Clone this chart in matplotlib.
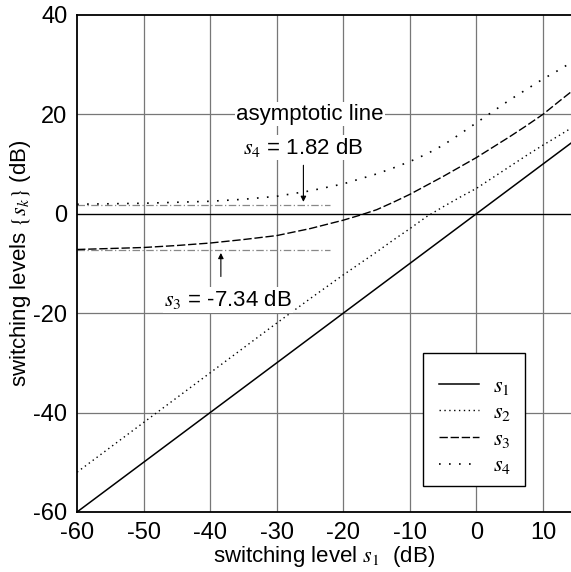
import matplotlib.pyplot as plt
from matplotlib.patches import Rectangle

plt.rcParams['font.family'] = ['Liberation Sans', 'DejaVu Sans']
plt.rcParams['mathtext.fontset'] = 'stix'
plt.rcParams['axes.unicode_minus'] = False

# values (dB)
x = [-60, -55, -50, -45, -40, -35, -30, -25, -20, -17.5, -15, -12.5, -10,
     -7.5, -5, -2.5, 0, 2.5, 5, 7.5, 10, 12.5, 14.2]
s1 = [-60, -55, -50, -45, -40, -35, -30, -25, -20, -17.5, -15, -12.5, -10,
      -7.5, -5, -2.5, 0, 2.5, 5, 7.5, 10, 12.5, 14.2]
s2 = [-52, -47, -42, -37, -32, -27, -22, -17.1, -12.3, -10, -7.7, -5.3, -3.0,
      -0.6, 1.4, 3.3, 5.1, 7.3, 9.5, 11.7, 13.8, 15.8, 17.2]
s3 = [-7.2, -7.0, -6.8, -6.4, -5.9, -5.2, -4.4, -3.0, -1.3, -0.3, 0.8, 2.3, 3.9,
      5.7, 7.5, 9.4, 11.3, 13.4, 15.5, 17.7, 20.0, 22.7, 24.5]
s4 = [1.9, 2.0, 2.1, 2.3, 2.5, 2.9, 3.5, 4.6, 6.0, 7.0, 8.0, 9.2, 10.5,
      12.0, 13.8, 16.0, 18.3, 20.6, 22.9, 25.0, 27.1, 29.0, 30.4]
asym_s3 = -7.34
asym_s4 = 1.82
labels = ['$s_{\\mathit{1}}$', '$s_{\\mathit{2}}$', '$s_{\\mathit{3}}$', '$s_{\\mathit{4}}$']

fig = plt.figure(figsize=(5.71, 5.72), dpi=100)
ax = fig.add_axes([0.135, 0.105, 0.865, 0.869])

# grid
for v in range(-50, 15, 10):
    ax.axvline(v, color='#777777', lw=0.9, zorder=1)
for v in range(-40, 40, 20):
    ax.axhline(v, color='#777777', lw=0.9, zorder=1)
ax.axhline(0, color='black', lw=0.9, zorder=1)

# asymptotic lines
ax.plot([-60, -22], [asym_s4, asym_s4], color='#888888', lw=0.9,
        ls=(0, (6, 2, 1, 2)), zorder=2)
ax.plot([-60, -22], [asym_s3, asym_s3], color='#888888', lw=0.9,
        ls=(0, (6, 2, 1, 2)), zorder=2)

l1, = ax.plot(x, s1, color='black', lw=1.1, ls='-', zorder=3)
l2, = ax.plot(x, s2, color='black', lw=1.0, ls=(0, (1, 2.5)), zorder=3)
l3, = ax.plot(x, s3, color='black', lw=1.0, ls=(0, (6, 2)), zorder=3)
l4, = ax.plot(x, s4, color='black', lw=1.2, ls=(0, (1, 5)), zorder=3)

# annotations
ax.text(-25, 20, 'asymptotic line', ha='center', va='center', fontsize=16,
        bbox=dict(facecolor='white', edgecolor='none', pad=1), zorder=4)
ax.text(-26, 13.3, '$s_{\\mathit{4}}$ = 1.82 dB', ha='center', va='center',
        fontsize=16, bbox=dict(facecolor='white', edgecolor='none', pad=1), zorder=4)
ax.annotate('', xy=(-26, asym_s4), xytext=(-26, 10.3),
            arrowprops=dict(arrowstyle='-|>', color='black', lw=0.8,
                            mutation_scale=8), zorder=4)
ax.text(-37.3, -17.3, '$s_{\\mathit{3}}$ = -7.34 dB', ha='center', va='center',
        fontsize=16, bbox=dict(facecolor='white', edgecolor='none', pad=1), zorder=4)
ax.annotate('', xy=(-38.4, asym_s3), xytext=(-38.4, -13.2),
            arrowprops=dict(arrowstyle='-|>', color='black', lw=0.8,
                            mutation_scale=8), zorder=4)

# legend box
ax.add_patch(Rectangle((0.700, 0.052), 0.207, 0.268, transform=ax.transAxes,
                       facecolor='white', edgecolor='black', lw=1.0, zorder=5))
leg = ax.legend([l1, l2, l3, l4], labels, loc='center',
                bbox_to_anchor=(0.806, 0.173), frameon=False, fontsize=16,
                handlelength=1.8, handletextpad=0.6, labelspacing=0.25,
                borderpad=0)
leg.set_zorder(6)

ax.set_xlim(-60, 14.2)
ax.set_ylim(-60, 40)
ax.set_xticks(range(-60, 11, 10))
ax.set_yticks(range(-60, 41, 20))
ax.tick_params(length=0, labelsize=17, pad=7)
for s in ['top', 'left', 'bottom']:
    ax.spines[s].set_linewidth(1.3)
ax.spines['right'].set_visible(False)

ax.set_xlabel('switching level $s_{\\mathit{1}}$  (dB)', fontsize=16, labelpad=0)
ax.set_ylabel('switching levels $\\{s_k\\}$ (dB)', fontsize=16, labelpad=0)

fig.savefig('out.png', dpi=100)
